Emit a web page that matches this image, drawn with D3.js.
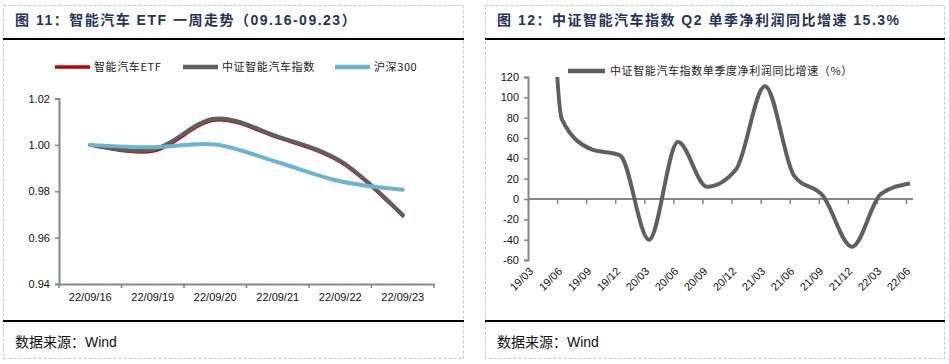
<!DOCTYPE html>
<html>
<head>
<meta charset="utf-8">
<script src="https://cdn.jsdelivr.net/npm/d3@7"></script>
<style>
body{margin:0;background:#fff;}
text{font-family:"Liberation Sans","Noto Sans CJK SC",sans-serif;}
.cjk{font-family:"Noto Sans CJK SC","Liberation Sans",sans-serif;}
</style>
</head>
<body>
<div id="chart-area"></div>
<script>
// ---------- DATA (left) ----------
let weekDates=["22/09/16","22/09/19","22/09/20","22/09/21","22/09/22","22/09/23"];
let etfValues=[1.000,0.9972,1.0106,1.0031,0.9926,0.9693];
let indexValues=[1.000,0.9979,1.0113,1.0036,0.9931,0.9698];
let hs300Values=[1.000,0.9990,1.0002,0.9925,0.9843,0.9806];
let leftTicks=[0.94,0.96,0.98,1.00,1.02];

// ---------- DATA (right) ----------
let quarters=["19/03","19/06","19/09","19/12","20/03","20/06","20/09","20/12","21/03","21/06","21/09","21/12","22/03","22/06"];
let profitGrowth=[1000,78,49,43,-40,56,12,29,111,23,3,-47,5,15.3];
let rightTicks=[-60,-40,-20,0,20,40,60,80,100,120];

let W=949,H=364;
let svg=d3.select("#chart-area").append("svg")
	.attr("width",W)
	.attr("height",H);

//---------FRAMES--------------
let panels=[{x0:3,x1:463},{x0:485,x1:944}];
panels.forEach(function(p){
	svg.append("rect")
		.attr("x",p.x0+0.5).attr("y",5.5)
		.attr("width",p.x1-p.x0).attr("height",353)
		.attr("fill","none")
		.attr("stroke","#c8c8c8")
		.attr("stroke-dasharray","3,2");
	[39,321].forEach(function(yy){
		svg.append("line")
			.attr("x1",p.x0).attr("x2",p.x1+1)
			.attr("y1",yy).attr("y2",yy)
			.attr("stroke","#000").attr("stroke-width",2);
	});
	svg.append("text")
		.attr("x",p.x0+12).attr("y",347)
		.attr("font-size","14px")
		.attr("fill","#111")
		.text("数据来源：Wind");
});

// titles (latin parts in Liberation Sans, CJK falls back)
svg.append("text")
	.attr("x",15).attr("y",25)
	.attr("font-size","14px")
	.attr("font-weight","bold")
	.attr("letter-spacing","1.5px")
	.attr("fill","#1f3658")
	.text("图 11：智能汽车 ETF 一周走势（09.16-09.23）");

svg.append("text")
	.attr("x",497).attr("y",25)
	.attr("font-size","14px")
	.attr("font-weight","bold")
	.attr("letter-spacing","1.5px")
	.attr("fill","#1f3658")
	.text("图 12：中证智能汽车指数 Q2 单季净利润同比增速 15.3%");

let axisColor="#868686";

//=========== LEFT CHART ===========
let x1=d3.scaleBand().domain(weekDates).range([59,434]);
let y1=d3.scaleLinear().domain([0.94,1.02]).range([284,98.5]);

let gl=svg.append("g");

let yAxisL=gl.append("g")
	.attr("transform","translate(59,0)")
	.call(d3.axisLeft(y1).tickValues(leftTicks).tickFormat(d3.format(".2f")).tickSize(4).tickPadding(5));
let xAxisL=gl.append("g")
	.attr("transform","translate(0,284)")
	.call(d3.axisBottom(x1).tickSize(0).tickPadding(9));
// ticks between categories
xAxisL.selectAll(".bound").data(weekDates.concat(["end"])).enter().append("line")
	.attr("class","bound")
	.attr("x1",(d,i)=>59+i*x1.step()).attr("x2",(d,i)=>59+i*x1.step())
	.attr("y1",0).attr("y2",4);

[yAxisL,xAxisL].forEach(function(a){
	a.select(".domain").attr("stroke",axisColor).attr("stroke-width",2);
	a.selectAll("line").attr("stroke",axisColor).attr("stroke-width",1.5);
	a.selectAll("text").attr("fill","#111").attr("font-size","11px")
		.attr("font-family","Liberation Sans, sans-serif");
});

let lineL=function(vals){
	return d3.line()
		.x((d,i)=>x1(weekDates[i])+x1.bandwidth()/2)
		.y(d=>y1(d))
		.curve(d3.curveCatmullRom.alpha(0.5))(vals);
};

let leftSeries=[
	{name:"智能汽车ETF",vals:etfValues,color:"#c00000",w:3},
	{name:"中证智能汽车指数",vals:indexValues,color:"#5f5f5f",w:4},
	{name:"沪深300",vals:hs300Values,color:"#6cb3d1",w:4}
];
leftSeries.forEach(function(s){
	gl.append("path")
		.attr("d",lineL(s.vals))
		.attr("fill","none")
		.attr("stroke",s.color)
		.attr("stroke-width",s.w)
		.attr("stroke-linecap","round");
});

//--------LEGEND (left)--------
let legendX=[55,183,335];
leftSeries.forEach(function(s,i){
	gl.append("line")
		.attr("x1",legendX[i]).attr("x2",legendX[i]+35)
		.attr("y1",67).attr("y2",67)
		.attr("stroke",s.color).attr("stroke-width",s.w===3?3.5:4.5);
	gl.append("text")
		.attr("class","cjk")
		.attr("x",legendX[i]+39).attr("y",71)
		.attr("font-size","11px")
		.attr("letter-spacing","0.6px")
		.attr("fill","#222")
		.text(s.name);
});

//=========== RIGHT CHART ===========
let x2=d3.scalePoint().domain(quarters).range([533,910]);
let x2ticks=x2.copy().range([528,906]);
let y2=d3.scaleLinear().domain([-60,120]).range([260,77]);

let gr=svg.append("g");

svg.append("clipPath").attr("id","clipR")
	.append("rect").attr("x",528).attr("y",77).attr("width",400).attr("height",190);

let yAxisR=gr.append("g")
	.attr("transform","translate(528,0)")
	.call(d3.axisLeft(y2).tickValues(rightTicks).tickFormat(d=>String(d)).tickSize(4).tickPadding(5));
let xAxisR=gr.append("g")
	.attr("transform","translate(0,"+y2(0)+")")
	.call(d3.axisBottom(x2ticks).tickSize(5).tickFormat(""));
xAxisR.select(".domain").attr("d","M528,0H913");

[yAxisR,xAxisR].forEach(function(a){
	a.select(".domain").attr("stroke",axisColor).attr("stroke-width",2);
	a.selectAll("line").attr("stroke",axisColor).attr("stroke-width",1.5);
	a.selectAll("text").attr("fill","#111").attr("font-size","11px")
		.attr("font-family","Liberation Sans, sans-serif");
});

// rotated category labels, placed low
gr.selectAll(".qlabel").data(quarters).enter().append("text")
	.attr("class","qlabel")
	.attr("text-anchor","end")
	.attr("font-size","11px")
	.attr("fill","#111")
	.attr("transform",d=>"translate("+(x2(d)+1)+",272) rotate(-45)")
	.text(d=>d);

gr.append("path")
	.attr("clip-path","url(#clipR)")
	.attr("d",d3.line()
		.x((d,i)=>x2(quarters[i]))
		.y(d=>y2(d))
		.curve(d3.curveMonotoneX)(profitGrowth))
	.attr("fill","none")
	.attr("stroke","#5f5f5f")
	.attr("stroke-width",4)
	.attr("stroke-linejoin","round");

//--------LEGEND (right)--------
gr.append("line")
	.attr("x1",568).attr("x2",605)
	.attr("y1",71).attr("y2",71)
	.attr("stroke","#5f5f5f").attr("stroke-width",4.5);
gr.append("text")
	.attr("class","cjk")
	.attr("x",610).attr("y",75)
	.attr("font-size","11px")
	.attr("letter-spacing","0.6px")
	.attr("fill","#222")
	.text("中证智能汽车指数单季度净利润同比增速（%）");
</script>
</body>
</html>
